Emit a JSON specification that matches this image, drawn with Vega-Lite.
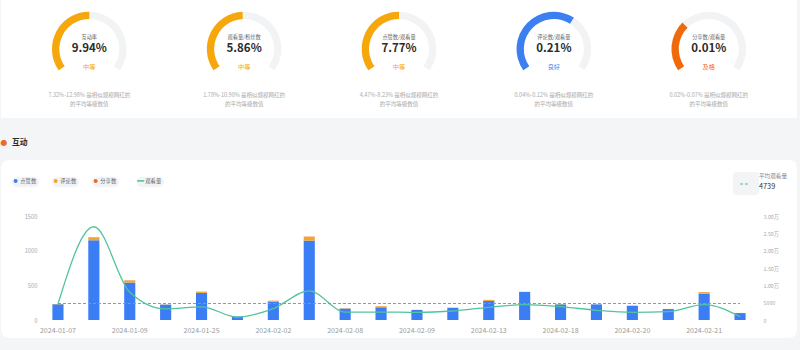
{
  "$schema": "https://vega.github.io/schema/vega-lite/v6.json",
  "background": "#f4f5f7",
  "padding": {"left": 0, "top": 0, "right": 0, "bottom": 12},
  "spacing": 0,
  "bounds": "flush",
  "resolve": {
    "scale": {"color": "independent", "strokeDash": "independent"},
    "legend": {"color": "independent", "strokeDash": "independent"}
  },
  "config": {"view": {"stroke": null}, "font": "Noto Sans CJK SC", "concat": {"spacing": 0}},
  "datasets": {
    "gauges": [
      {"metric": "互动率", "value": "9.94%", "rating": "中等", "fill": 0.5, "range": "7.32%-12.98% 是相似规模网红的", "note": "的平均等级数值"},
      {"metric": "观看量/粉丝数", "value": "5.86%", "rating": "中等", "fill": 0.49, "range": "1.78%-10.90% 是相似规模网红的", "note": "的平均等级数值"},
      {"metric": "点赞数/观看量", "value": "7.77%", "rating": "中等", "fill": 0.5, "range": "4.47%-8.23% 是相似规模网红的", "note": "的平均等级数值"},
      {"metric": "评论数/观看量", "value": "0.21%", "rating": "良好", "fill": 0.63, "range": "0.04%-0.12% 是相似规模网红的", "note": "的平均等级数值"},
      {"metric": "分享数/观看量", "value": "0.01%", "rating": "及格", "fill": 0.32, "range": "0.02%-0.07% 是相似规模网红的", "note": "的平均等级数值"}
    ],
    "posts": [
      {"post": "2024-01-07 20:15", "点赞数": 228, "评论数": 4, "分享数": 0, "观看量": 4600},
      {"post": "2024-01-08 19:30", "点赞数": 1150, "评论数": 42, "分享数": 3, "观看量": 26900},
      {"post": "2024-01-09 18:00", "点赞数": 540, "评论数": 30, "分享数": 3, "观看量": 8000},
      {"post": "2024-01-16 20:00", "点赞数": 222, "评论数": 2, "分享数": 0, "观看量": 3200},
      {"post": "2024-01-25 19:10", "点赞数": 392, "评论数": 16, "分享数": 2, "观看量": 3800},
      {"post": "2024-01-29 21:00", "点赞数": 52, "评论数": 2, "分享数": 0, "观看量": 800},
      {"post": "2024-02-02 18:30", "点赞数": 265, "评论数": 12, "分享数": 2, "观看量": 3300},
      {"post": "2024-02-05 20:20", "点赞数": 1145, "评论数": 52, "分享数": 5, "观看量": 8400},
      {"post": "2024-02-08 12:00", "点赞数": 165, "评论数": 5, "分享数": 0, "观看量": 2300},
      {"post": "2024-02-08 20:00", "点赞数": 183, "评论数": 14, "分享数": 2, "观看量": 2300},
      {"post": "2024-02-09 19:00", "点赞数": 145, "评论数": 2, "分享数": 0, "观看量": 2200},
      {"post": "2024-02-11 20:30", "点赞数": 175, "评论数": 4, "分享数": 0, "观看量": 2600},
      {"post": "2024-02-13 18:45", "点赞数": 276, "评论数": 12, "分享数": 2, "观看量": 3650},
      {"post": "2024-02-15 20:10", "点赞数": 405, "评论数": 2, "分享数": 0, "观看量": 4420},
      {"post": "2024-02-18 19:20", "点赞数": 225, "评论数": 2, "分享数": 0, "观看量": 3850},
      {"post": "2024-02-19 20:00", "点赞数": 225, "评论数": 1, "分享数": 0, "观看量": 2800},
      {"post": "2024-02-20 12:30", "点赞数": 205, "评论数": 3, "分享数": 0, "观看量": 2200},
      {"post": "2024-02-20 20:40", "点赞数": 158, "评论数": 2, "分享数": 0, "观看量": 2400},
      {"post": "2024-02-21 12:00", "点赞数": 380, "评论数": 20, "分享数": 3, "观看量": 4420},
      {"post": "2024-02-21 20:00", "点赞数": 100, "评论数": 2, "分享数": 0, "观看量": 960}
    ]
  },
  "vconcat": [
    {
      "width": 796,
      "height": 98,
      "view": {"fill": "#ffffff"},
      "data": {"name": "gauges"},
      "encoding": {
        "x": {"field": "metric", "type": "nominal", "sort": null, "scale": {"type": "band", "paddingInner": 0, "paddingOuter": 0.07}, "axis": null}
      },
      "layer": [
        {
          "mark": {"type": "arc", "radius": 37.3, "radius2": 30, "color": "#f2f3f5"},
          "encoding": {
            "theta": {"datum": 1, "type": "quantitative", "stack": null, "scale": {"domain": [0, 1], "range": [-2.18, 2.18]}},
            "theta2": {"value": -2.18}
          }
        },
        {
          "mark": {"type": "arc", "radius": 37.3, "radius2": 30},
          "encoding": {
            "theta": {"field": "fill", "type": "quantitative", "stack": null},
            "theta2": {"value": -2.18},
            "color": {"field": "rating", "type": "nominal", "scale": {"domain": ["中等", "良好", "及格"], "range": ["#f6a70c", "#3b7ff0", "#f06a0c"]}, "legend": null}
          }
        },
        {"mark": {"type": "text", "dy": -12.3, "fontSize": 5.2, "color": "#666666"}, "encoding": {"text": {"field": "metric", "type": "nominal"}}},
        {"mark": {"type": "text", "fontSize": 11.5, "fontWeight": "bold", "color": "#2b2b2b"}, "encoding": {"text": {"field": "value", "type": "nominal"}}},
        {
          "mark": {"type": "text", "dy": 17.7, "fontSize": 6.2},
          "encoding": {
            "text": {"field": "rating", "type": "nominal"},
            "color": {"field": "rating", "type": "nominal", "legend": null}
          }
        }
      ]
    },
    {
      "width": 796,
      "height": 20,
      "view": {"fill": "#ffffff"},
      "data": {"name": "gauges"},
      "encoding": {
        "x": {"field": "metric", "type": "nominal", "sort": null, "scale": {"type": "band", "paddingInner": 0, "paddingOuter": 0.07}, "axis": null}
      },
      "layer": [
        {"mark": {"type": "text", "dy": -13, "fontSize": 5.5, "color": "#aaaaaa"}, "encoding": {"text": {"field": "range", "type": "nominal"}}},
        {"mark": {"type": "text", "dy": -4, "fontSize": 5.5, "color": "#aaaaaa"}, "encoding": {"text": {"field": "note", "type": "nominal"}}}
      ]
    },
    {
      "width": 800,
      "height": 42,
      "data": {"values": [{"part": "dot", "text": "●"}, {"part": "label", "text": "互动"}]},
      "layer": [
        {
          "transform": [{"filter": "datum.part === 'dot'"}],
          "mark": {"type": "text", "align": "center", "dy": 4, "fontSize": 8, "font": "DejaVu Sans", "color": "#ee6a1e"},
          "encoding": {
            "x": {"field": "part", "type": "nominal", "bandPosition": 0.27, "scale": {"type": "band", "domain": ["dot", "label"], "range": [0, 22], "paddingInner": 0, "paddingOuter": 0}, "axis": null},
            "text": {"field": "text", "type": "nominal"}
          }
        },
        {
          "transform": [{"filter": "datum.part === 'label'"}],
          "mark": {"type": "text", "align": "left", "dy": 4, "fontSize": 7.8, "fontWeight": "bold", "color": "#2b2b2b"},
          "encoding": {
            "x": {"field": "part", "type": "nominal", "bandPosition": 0, "axis": null},
            "text": {"field": "text", "type": "nominal"}
          }
        }
      ]
    },
    {
      "width": 796,
      "height": 178,
      "view": {"fill": "#ffffff", "cornerRadius": 8},
      "title": {
        "text": "平均观看量",
        "subtitle": "4739",
        "anchor": "start",
        "frame": "group",
        "orient": "top",
        "offset": 0,
        "dx": 758,
        "dy": 30,
        "fontSize": 5.6,
        "fontWeight": "normal",
        "color": "#888888",
        "subtitleFontSize": 7.3,
        "subtitleColor": "#333333",
        "subtitlePadding": 3
      },
      "data": {"name": "posts"},
      "layer": [
        {
          "transform": [{"fold": ["点赞数", "评论数", "分享数"], "as": ["metric", "count"]}],
          "mark": {"type": "bar", "width": {"band": 0.31}},
          "encoding": {
            "x": {
              "field": "post", "type": "nominal", "sort": null,
              "scale": {"type": "band", "range": [39, 757], "paddingInner": 0, "paddingOuter": 0},
              "axis": {
                "orient": "bottom", "offset": -18, "ticks": false, "domain": false, "grid": false, "title": null,
                "values": ["2024-01-07 20:15", "2024-01-09 18:00", "2024-01-25 19:10", "2024-02-02 18:30", "2024-02-08 12:00", "2024-02-09 19:00", "2024-02-13 18:45", "2024-02-18 19:20", "2024-02-20 12:30", "2024-02-21 12:00"],
                "labelExpr": "substring(datum.value, 0, 10)",
                "labelAngle": 0, "labelFontSize": 7, "labelColor": "#999999", "labelPadding": 6, "labelOverlap": false
              }
            },
            "y": {
              "field": "count", "type": "quantitative", "stack": "zero",
              "scale": {"domain": [0, 1500], "range": [160, 56]},
              "axis": {"orient": "left", "offset": -38, "ticks": false, "domain": false, "grid": false, "title": null, "values": [0, 500, 1000, 1500], "format": "d", "labelOverlap": false, "labelFontSize": 5.8, "labelColor": "#aaaaaa", "labelPadding": 2}
            },
            "color": {
              "field": "metric", "type": "nominal",
              "scale": {"domain": ["点赞数", "评论数", "分享数", "观看量"], "range": ["#3a7df5", "#f5a623", "#e9682b", "#52c49a"]},
              "legend": {
                "orient": "none", "legendX": 12, "legendY": 18, "direction": "horizontal", "title": null,
                "symbolType": "circle", "symbolSize": 49, "labelFontSize": 5.3, "labelColor": "#666666", "labelOffset": 2, "columnPadding": 14,
                "encode": {
                  "symbols": {"update": {
                    "shape": {"signal": "datum.value === '观看量' ? 'stroke' : 'circle'"},
                    "size": {"signal": "datum.value === '观看量' ? 49 : 16"},
                    "stroke": {"scale": "color", "field": "value"},
                    "strokeWidth": {"signal": "datum.value === '观看量' ? 1.6 : 0"}
                  }},
                  "entries": {"update": {
                    "fill": {"value": "#f3f4f6"},
                    "stroke": {"value": "#f3f4f6"},
                    "strokeWidth": {"value": 3},
                    "cornerRadius": {"value": 4},
                    "width": {"signal": "datum.value === '观看量' ? 31 : 30"},
                    "height": {"value": 8}
                  }}
                }
              }
            },
            "order": {"field": "count", "type": "quantitative", "sort": "descending"}
          }
        },
        {
          "layer": [
            {
              "mark": {"type": "line", "interpolate": "monotone", "strokeWidth": 1.3},
              "encoding": {
                "x": {"field": "post", "type": "nominal", "sort": null},
                "y": {
                  "field": "观看量", "type": "quantitative",
                  "scale": {"domain": [0, 30000], "range": [160, 56]},
                  "axis": {"orient": "right", "offset": -36, "ticks": false, "domain": false, "grid": false, "title": null, "values": [0, 5000, 10000, 15000, 20000, 25000, 30000], "labelOverlap": false, "labelExpr": "datum.value < 10000 ? format(datum.value, 'd') : format(datum.value / 10000, '.2f') + '万'", "labelFontSize": 5.3, "labelColor": "#aaaaaa", "labelPadding": 2}
                },
                "color": {"datum": "观看量", "type": "nominal"}
              }
            },
            {
              "data": {"values": [{"avg": 4739}]},
              "mark": {"type": "rule", "strokeWidth": 1.1, "color": "#45c08f", "strokeDash": [3, 2]},
              "encoding": {
                "x": {"datum": "2024-01-07 20:15", "type": "nominal"},
                "x2": {"datum": "2024-02-21 20:00"},
                "y": {
                  "field": "avg", "type": "quantitative",
                  "axis": {"orient": "right", "offset": -36, "ticks": false, "domain": false, "grid": false, "title": null, "values": [0, 5000, 10000, 15000, 20000, 25000, 30000], "labelOverlap": false, "labelExpr": "datum.value < 10000 ? format(datum.value, 'd') : format(datum.value / 10000, '.2f') + '万'", "labelFontSize": 5.3, "labelColor": "#aaaaaa", "labelPadding": 2}
                }
              }
            },
            {
              "data": {"values": [{"avg": 4739}]},
              "mark": {"type": "rule", "strokeWidth": 0},
              "encoding": {
                "x": {"datum": "2024-01-07 20:15", "type": "nominal"},
                "x2": {"datum": "2024-02-21 20:00"},
                "y": {
                  "field": "avg", "type": "quantitative",
                  "axis": {"orient": "right", "offset": -36, "ticks": false, "domain": false, "grid": false, "title": null, "values": [0, 5000, 10000, 15000, 20000, 25000, 30000], "labelOverlap": false, "labelExpr": "datum.value < 10000 ? format(datum.value, 'd') : format(datum.value / 10000, '.2f') + '万'", "labelFontSize": 5.3, "labelColor": "#aaaaaa", "labelPadding": 2}
                },
                "strokeDash": {
                  "datum": "平均观看量", "type": "nominal",
                  "scale": {"range": [[3, 2]]},
                  "legend": {"orient": "none", "legendX": 732, "legendY": 12, "title": null, "symbolType": "stroke", "symbolSize": 100, "symbolStrokeColor": "#52c49a", "symbolStrokeWidth": 1.2, "symbolOpacity": 1, "labelExpr": "''", "labelOffset": 0, "padding": 6, "fillColor": "#f3f4f6", "cornerRadius": 3}
                }
              }
            }
          ]
        }
      ],
      "resolve": {"scale": {"y": "independent"}}
    }
  ]
}
